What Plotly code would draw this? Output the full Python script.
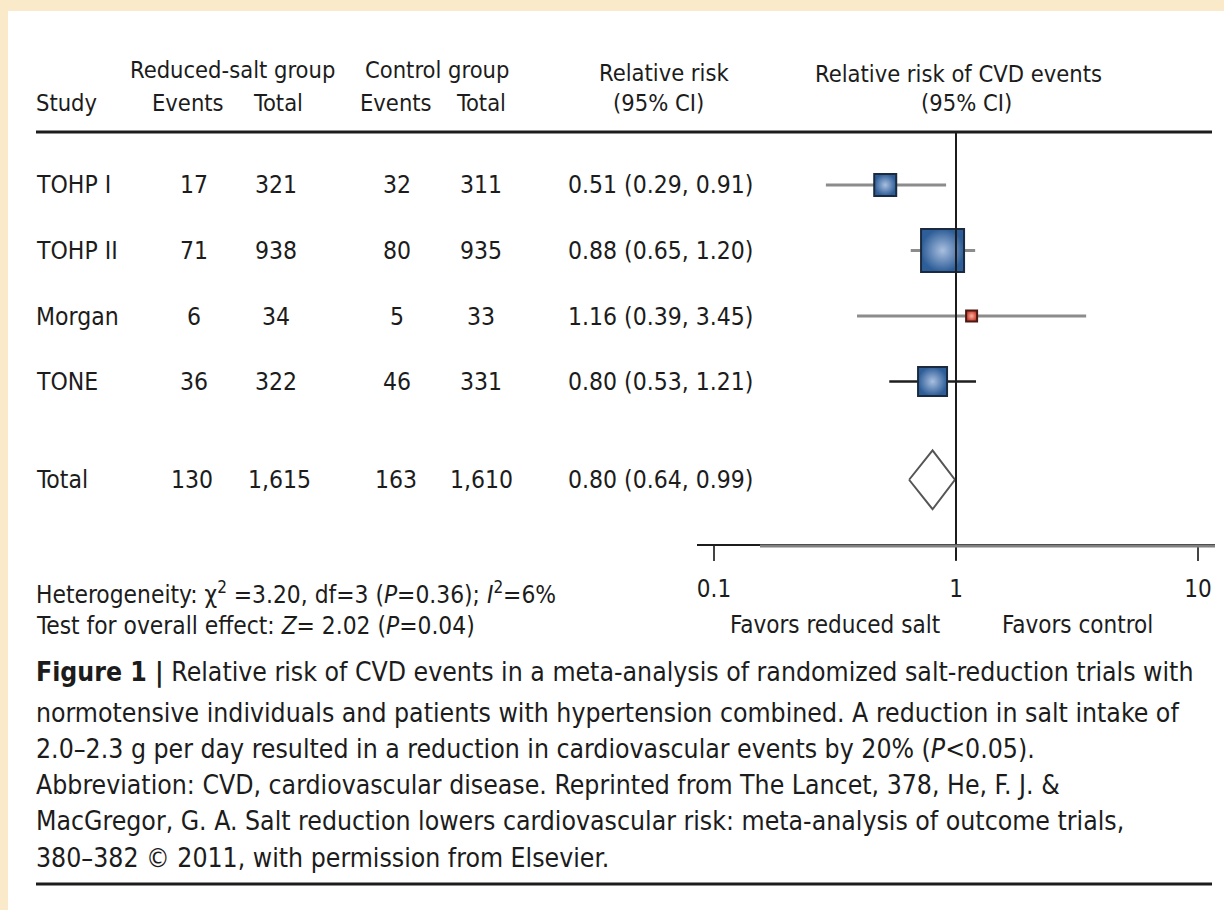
import math
import plotly.graph_objects as go

W, H = 1224, 910

# ---- data -----------------------------------------------------------------
studies = ["TOHP I", "TOHP II", "Morgan", "TONE"]
salt_events = [17, 71, 6, 36]
salt_total = [321, 938, 34, 322]
ctrl_events = [32, 80, 5, 46]
ctrl_total = [311, 935, 33, 331]
rr = [0.51, 0.88, 1.16, 0.80]
rr_lo = [0.29, 0.65, 0.39, 0.53]
rr_hi = [0.91, 1.20, 3.45, 1.21]

total_label = "Total"
total_salt_events = "130"
total_salt_total = "1,615"
total_ctrl_events = "163"
total_ctrl_total = "1,610"
pooled_rr = 0.80
pooled_lo = 0.64
pooled_hi = 0.99

axis_ticks = [0.1, 1, 10]
axis_ticktext = ["0.1", "1", "10"]

heterogeneity = "Heterogeneity: χ<sup>2</sup> =3.20, df=3 (<i>P</i>=0.36); <i>I</i><sup>2</sup>=6%"
overall = "Test for overall effect: <i>Z</i>= 2.02 (<i>P</i>=0.04)"
caption_lines = [
    "<b>Figure 1 |</b> Relative risk of CVD events in a meta-analysis of randomized salt-reduction trials with",
    "normotensive individuals and patients with hypertension combined. A reduction in salt intake of",
    "2.0–2.3 g per day resulted in a reduction in cardiovascular events by 20% (<i>P</i>&lt;0.05).",
    "Abbreviation: CVD, cardiovascular disease. Reprinted from The Lancet, 378, He, F. J. &amp;",
    "MacGregor, G. A. Salt reduction lowers cardiovascular risk: meta-analysis of outcome trials,",
    "380–382 © 2011, with permission from Elsevier.",
]

# ---- styling / layout helpers ----------------------------------------------
FONT = "DejaVu Sans Condensed, Liberation Sans Narrow, Arial Narrow, sans-serif"
INK = "#1c1c1c"
HEAD = 23.5
BODY = 24.5
CAP = 26.4

ROW0_PX, ROW_STEP_PX = 185, 65.5         # pixel position of first row, row pitch
row_pos = [0, 1, 2, 3]
total_pos = 4.5
square_px = [22, 43, 11, 29]             # drawn box sides (weight-proportional)
diamond_half = 0.45


def px_to_row(py):
    return (py - ROW0_PX) / ROW_STEP_PX


def row_to_px(r):
    return ROW0_PX + ROW_STEP_PX * r


def pp(x, y):
    return x / W, 1 - y / H


# forest x-axis: log scale, 0.1 at px 712, 1 at 956, 10 at 1196
DEC_PX = 242.0
X_LEFT, X_RIGHT, X_ONE = 697, 1215, 956
xr = [(X_LEFT - X_ONE) / DEC_PX, (X_RIGHT - X_ONE) / DEC_PX]

fig = go.Figure()

# confidence intervals
for i, (lo, hi) in enumerate(zip(rr_lo, rr_hi)):
    is_tone = studies[i] == "TONE"
    fig.add_trace(go.Scatter(
        x=[lo, hi], y=[row_pos[i], row_pos[i]], mode="lines",
        line=dict(color="#1e1e1e" if is_tone else "#8c8c8c", width=2.5 if is_tone else 3),
        hoverinfo="skip", showlegend=False))

# point estimates (boxes): light centre fading to a dark edge
for i, v in enumerate(rr):
    red = v > 1
    fig.add_trace(go.Scatter(
        x=[v], y=[row_pos[i]], mode="markers",
        marker=dict(symbol="square", size=square_px[i],
                    color="#C8372A" if red else "#2E5E98",
                    gradient=dict(type="radial", color="#F7B3A3" if red else "#A9BFE0"),
                    line=dict(color="#4a1a12" if red else "#1b2a3e", width=2)),
        hoverinfo="skip", showlegend=False))

# pooled estimate diamond
fig.add_trace(go.Scatter(
    x=[pooled_lo, pooled_rr, pooled_hi, pooled_rr, pooled_lo],
    y=[total_pos, total_pos - diamond_half, total_pos, total_pos + diamond_half, total_pos],
    mode="lines", fill="toself", fillcolor="white",
    line=dict(color="#555555", width=2), hoverinfo="skip", showlegend=False))

shapes = [
    # white panel over the cream frame
    dict(type="rect", xref="paper", yref="paper", x0=8 / W, x1=1, y0=0, y1=1 - 11 / H,
         fillcolor="white", line=dict(width=0), layer="below"),
    # header rule and bottom rule
    dict(type="line", xref="paper", yref="paper", x0=36 / W, x1=1212 / W,
         y0=1 - 132 / H, y1=1 - 132 / H, line=dict(color=INK, width=3)),
    dict(type="line", xref="paper", yref="paper", x0=36 / W, x1=1212 / W,
         y0=1 - 884 / H, y1=1 - 884 / H, line=dict(color=INK, width=3)),
    # line of no effect
    dict(type="line", xref="x", yref="y", x0=1, x1=1,
         y0=px_to_row(133), y1=px_to_row(560), line=dict(color=INK, width=2)),
    # grey overdraw along the axis
    dict(type="line", xref="x", yref="y", x0=10 ** ((760 - X_ONE) / DEC_PX), x1=10 ** xr[1],
         y0=px_to_row(546), y1=px_to_row(546), line=dict(color="#808080", width=3)),
]

ann = []


def text(x, y, s, anchor="center", size=BODY):
    xp, yp = pp(x, y)
    ann.append(dict(x=xp, y=yp, xref="paper", yref="paper", text=s, showarrow=False,
                    xanchor=anchor, yanchor="middle", borderpad=0,
                    font=dict(family=FONT, size=size, color=INK)))


# headers
text(232, 70, "Reduced-salt group", size=HEAD)
text(437, 70, "Control group", size=HEAD)
text(35, 103, "Study", "left", HEAD)
text(188, 103, "Events", size=HEAD)
text(278, 103, "Total", size=HEAD)
text(396, 103, "Events", size=HEAD)
text(481, 103, "Total", size=HEAD)
text(664, 73, "Relative risk", size=HEAD)
text(658, 103, "(95% CI)", size=HEAD)
text(958, 74, "Relative risk of CVD events", size=HEAD)
text(966, 103, "(95% CI)", size=HEAD)

# table body
for i, name in enumerate(studies):
    y = row_to_px(row_pos[i])
    text(35, y, name, "left")
    text(194, y, str(salt_events[i]))
    text(276, y, str(salt_total[i]))
    text(397, y, str(ctrl_events[i]))
    text(481, y, str(ctrl_total[i]))
    text(567, y, f"{rr[i]:.2f} ({rr_lo[i]:.2f}, {rr_hi[i]:.2f})", "left")

yt = row_to_px(total_pos)
text(35, yt, total_label, "left")
text(192, yt, total_salt_events)
text(279, yt, total_salt_total)
text(396, yt, total_ctrl_events)
text(481, yt, total_ctrl_total)
text(567, yt, f"{pooled_rr:.2f} ({pooled_lo:.2f}, {pooled_hi:.2f})", "left")

# statistics and axis captions
text(35, 593, heterogeneity, "left", 24.3)
text(35, 625, overall, "left", 24.3)
text(835, 625, "Favors reduced salt", "center", 24)
text(1077, 625, "Favors control", "center", 24)

# figure caption
for k, line in enumerate(caption_lines):
    text(35, [672, 712, 748, 784, 820, 857][k], line, "left", CAP)

fig.update_layout(
    width=W, height=H, margin=dict(l=0, r=0, t=0, b=0),
    paper_bgcolor="#FBEACA", plot_bgcolor="rgba(0,0,0,0)",
    shapes=shapes, annotations=ann, showlegend=False,
    xaxis=dict(type="log", range=xr, domain=[X_LEFT / W, X_RIGHT / W],
               anchor="free", position=1 - 545 / H,
               showline=True, linecolor=INK, linewidth=2,
               ticks="outside", ticklen=15, tickwidth=2, tickcolor="#444444",
               tickvals=axis_ticks, ticktext=axis_ticktext, ticklabelstandoff=7,
               tickfont=dict(family=FONT, size=24, color=INK),
               showgrid=False, zeroline=False),
    yaxis=dict(range=[px_to_row(H), px_to_row(0)], domain=[0, 1], visible=False,
               showgrid=False, zeroline=False),
)

fig.write_html("out.html")
